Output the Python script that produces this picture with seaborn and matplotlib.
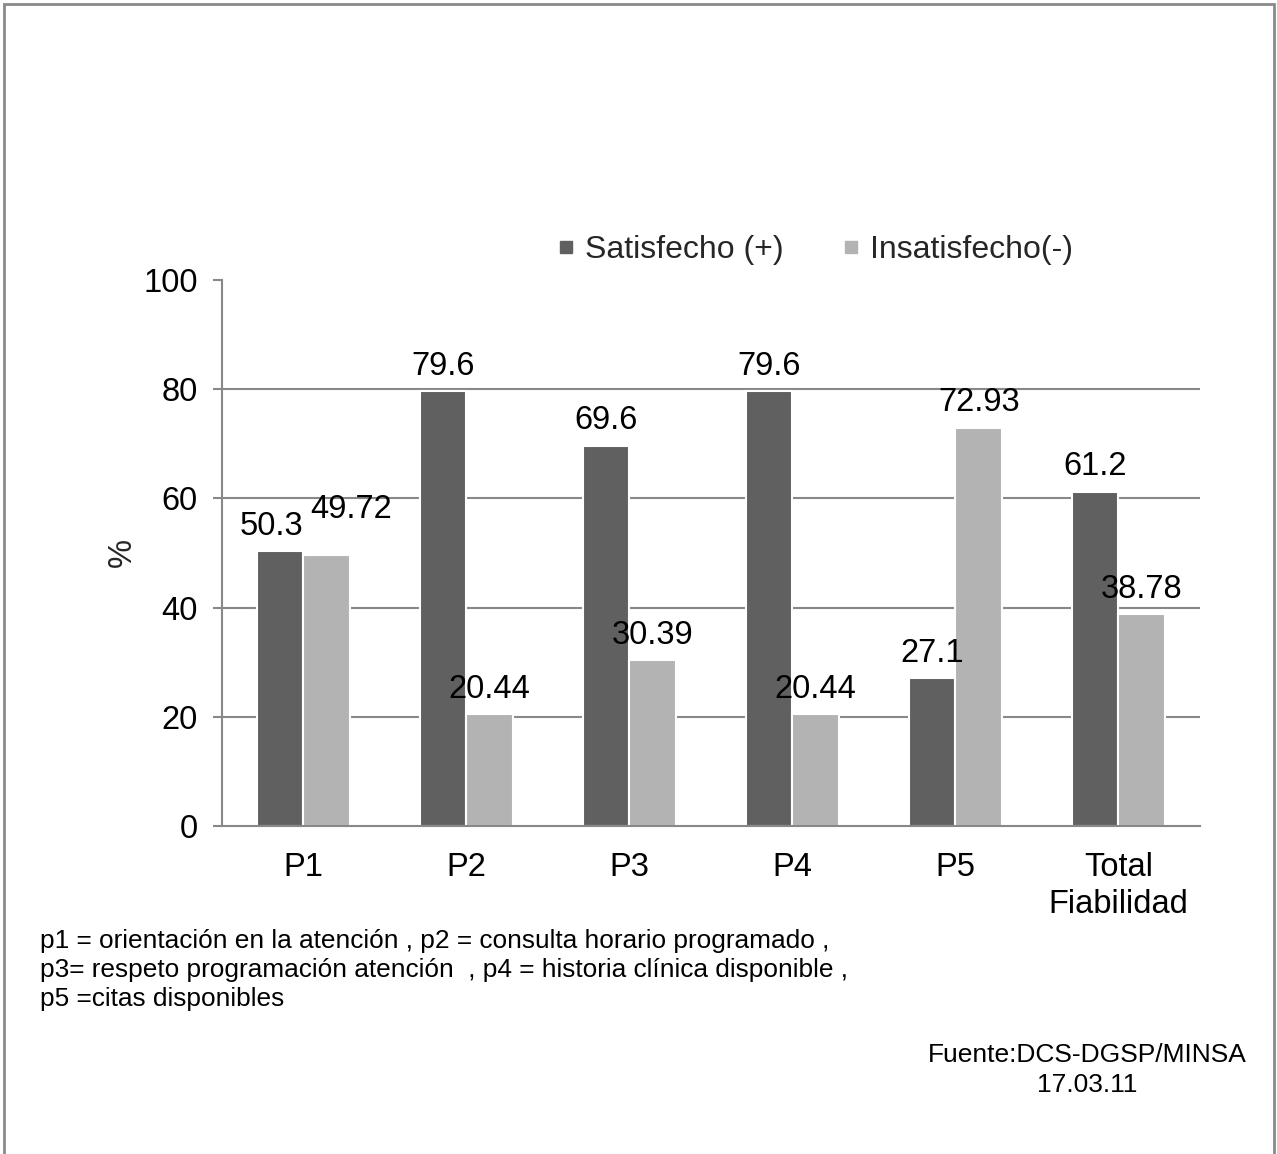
import matplotlib
matplotlib.use("Agg")
import matplotlib.pyplot as plt
import seaborn as sns
import pandas as pd
from matplotlib.lines import Line2D
from matplotlib.patches import Rectangle

# Survey results: reliability dimension (Fiabilidad)
categories = ["P1", "P2", "P3", "P4", "P5", "Total\nFiabilidad"]
satisfecho = [50.3, 79.6, 69.6, 79.6, 27.1, 61.2]
insatisfecho = [49.72, 20.44, 30.39, 20.44, 72.93, 38.78]
series_names = ["Satisfecho (+)", "Insatisfecho(-)"]
y_ticks = [0, 20, 40, 60, 80, 100]

footnote = ("p1 = orientación en la atención , p2 = consulta horario programado ,\n"
            "p3= respeto programación atención  , p4 = historia clínica disponible ,\n"
            "p5 =citas disponibles")
source = "Fuente:DCS-DGSP/MINSA\n17.03.11"

sns.set_theme(style="white")
plt.rcParams["font.family"] = ["Liberation Sans", "DejaVu Sans"]

dark, light = "#606060", "#b3b3b3"
grid_col = "#888888"
big = 23.5

df = pd.DataFrame({
    "categoria": categories * 2,
    "serie": [series_names[0]] * len(categories) + [series_names[1]] * len(categories),
    "valor": satisfecho + insatisfecho,
})

fig = plt.figure(figsize=(12.77, 11.54), dpi=100)
ax = fig.add_axes([0.1738, 0.2842, 0.9397 - 0.1738, 0.7574 - 0.2842])

sns.barplot(data=df, x="categoria", y="valor", hue="serie", order=categories,
            hue_order=series_names, palette=[dark, light], width=0.57,
            edgecolor="white", linewidth=1.5, legend=False, ax=ax)

ax.set_ylim(0, 100)
ax.set_xlim(-0.5, len(categories) - 0.5)
ax.set_yticks(y_ticks)
ax.set_yticklabels([str(t) for t in y_ticks])
ax.set_xlabel("")
ax.set_ylabel("%", fontsize=big)
ax.yaxis.set_label_coords(-0.086, 0.5)

# horizontal gridlines (none at the top)
for t in y_ticks[1:-1]:
    ax.axhline(t, color=grid_col, lw=1.5, zorder=0)

for side in ["top", "right"]:
    ax.spines[side].set_visible(False)
for side in ["left", "bottom"]:
    ax.spines[side].set_color(grid_col)
    ax.spines[side].set_linewidth(1.5)
ax.spines["bottom"].set_zorder(5)

ax.tick_params(axis="y", which="major", left=True, length=6.5, width=1.5,
               color=grid_col, labelsize=big, labelcolor="black", pad=11)
ax.tick_params(axis="x", which="major", bottom=False, labelsize=big,
               labelcolor="black", pad=12.5)
for lbl in ax.get_xticklabels():
    lbl.set_linespacing(1.25)

# value labels above each bar
x_shift = {(0, 0): -9, (1, 0): 24}
y_extra = {(1, 0): 20}
for s_idx, (container, vals) in enumerate(zip(ax.containers, [satisfecho, insatisfecho])):
    for c_idx, (bar, v) in enumerate(zip(container, vals)):
        dx = x_shift.get((s_idx, c_idx), 0) * 0.72
        dy = (25 + y_extra.get((s_idx, c_idx), 0)) * 0.72
        ax.annotate(f"{v:g}", (bar.get_x() + bar.get_width() / 2, bar.get_height()),
                    xytext=(dx, dy), textcoords="offset points",
                    ha="center", va="center", fontsize=big, color="black",
                    zorder=6)

# legend above the plot
handles = [Line2D([], [], marker="s", linestyle="none", markersize=9,
                  markerfacecolor=c, markeredgecolor=c) for c in (dark, light)]
fig.legend(handles, series_names, loc="center", bbox_to_anchor=(0.638, 0.783),
           ncol=2, frameon=False, fontsize=23, handlelength=0.6,
           handletextpad=0.3, columnspacing=1.8)

fig.text(40 / 1277, 1 - 929 / 1154, footnote, fontsize=18.9, ha="left", va="top",
         linespacing=1.26, color="black")
fig.text(1087 / 1277, 1 - 1070 / 1154, source, fontsize=19, ha="center",
         va="center", linespacing=1.27, color="black")

# outer frame of the figure
fig.add_artist(Rectangle((4 / 1277, -0.02), (1274 - 4) / 1277, 1.02 - 4 / 1154,
                         transform=fig.transFigure, fill=False,
                         edgecolor="#8a8a8a", linewidth=2))

fig.savefig("out.png", dpi=100)
